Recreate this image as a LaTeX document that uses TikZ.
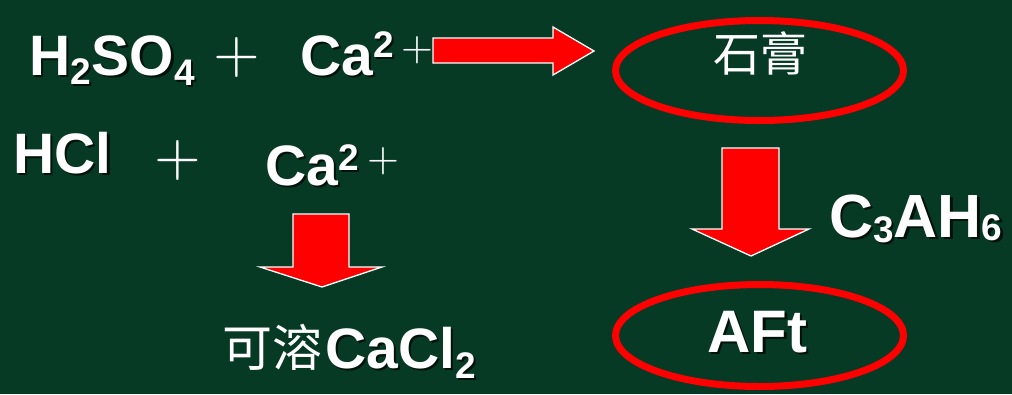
\documentclass[tikz,border=0pt]{standalone}
\usepackage{fontspec}
\setmainfont{Liberation Sans}
\newfontfamily\cjk{Noto Sans CJK SC}
\newfontfamily\lmr{lmroman10-regular.otf}
\definecolor{bg}{RGB}{6,58,37}
\definecolor{shd}{RGB}{0,18,10}
\definecolor{arrred}{RGB}{255,0,0}
\newcommand{\fs}[1]{\fontsize{#1}{#1}\selectfont}
\newcommand{\sub}[2]{\raisebox{#1}{\fs{37}#2}}
\newcommand{\stext}[4][]{%
  \node[txt,#1,text=shd,shift={(2.5,2.5)}] at (#3) {#4};
  \node[txt,#1] (#2) at (#3) {#4};}
\begin{document}
\begin{tikzpicture}[x=1pt,y=-1pt,
  txt/.style={inner sep=0pt,anchor=base west,text=white,font=\bfseries\fs{57}},
  plusbig/.style={inner sep=0pt,text=white,font=\lmr\fs{60}},
  plussmall/.style={inner sep=0pt,text=white,font=\lmr\fs{41}},
  blockarrow/.style={fill=arrred,draw=white,line width=1.3pt,line join=miter},
  ring/.style={draw=arrred,line width=7pt}]
\fill[bg] (0,0) rectangle (1012,394);
\useasboundingbox (0,0) rectangle (1012,394);

% row 1
\stext{h2so4}{29,75}{H\sub{-9pt}{2}\kern1pt SO\sub{-10pt}{4}}
\node[plusbig] (p1) at (237,57) {+};
\stext{ca1}{300,75}{Ca\raisebox{18pt}{\fs{37}2}}
\node[plussmall] (p1s) at (417,50) {+};
\draw[blockarrow] (433,38) -- (553,38) -- (553,27) -- (594,51) -- (553,75) -- (553,63) -- (433,63) -- cycle;

% gypsum
\draw[ring] (759.5,70.5) ellipse [x radius=144, y radius=50];
\node[inner sep=0pt,text=white,font=\cjk\fs{47}] (gy) at (760,53) {石膏};

% row 2
\stext{hcl}{13,173}{HCl}
\node[plusbig] (p2) at (178,160) {+};
\stext{ca2}{265,185}{Ca\raisebox{15pt}{\fs{37}2}}
\node[plussmall] (p2s) at (383,161) {+};

% left down arrow
\draw[blockarrow] (293,214) -- (349,214) -- (349,267) -- (382,267) -- (322,287) -- (260,267) -- (293,267) -- cycle;

% right down arrow
\draw[blockarrow] (722,148) -- (779,148) -- (779,229) -- (809,229) -- (751,256) -- (692,229) -- (722,229) -- cycle;
\stext[font=\bfseries\fs{61}]{c3ah6}{829,237}{C\sub{-5pt}{3}AH\sub{-3pt}{6}}

% AFt
\draw[ring] (759.5,335.5) ellipse [x radius=144, y radius=51];
\stext[font=\bfseries\fs{60}]{aft}{707,352}{AFt}

% soluble CaCl2
\node[inner sep=0pt,anchor=base west,text=white,font=\cjk\fs{50}] (kr) at (222,366) {可溶};
\stext{cacl}{325,368}{CaCl\sub{-10pt}{2}}
\end{tikzpicture}
\end{document}
